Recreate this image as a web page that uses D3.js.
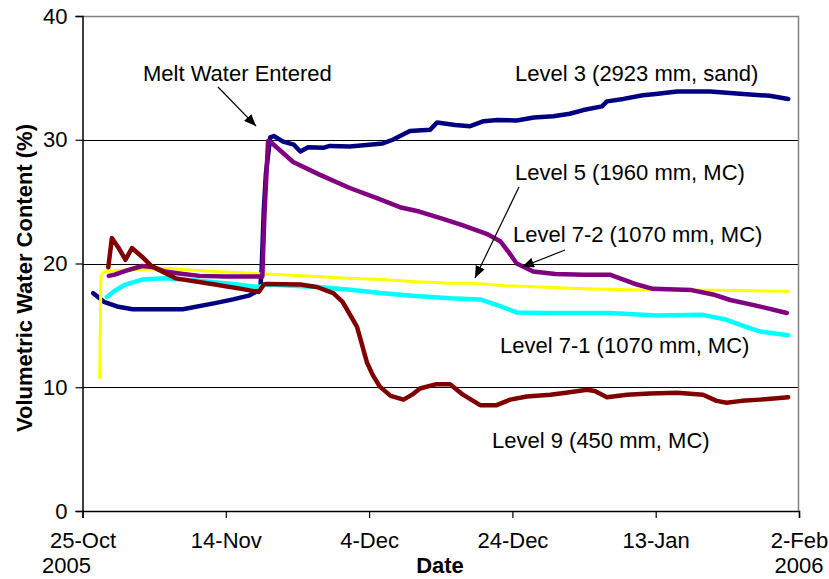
<!DOCTYPE html>
<html>
<head>
<meta charset="utf-8">
<script src="https://cdn.jsdelivr.net/npm/d3@7"></script>
<style>
  body { margin: 0; background: #fff; }
  text { font-family: Arial, "Liberation Sans", sans-serif; }
</style>
</head>
<body>
<div id="chart"></div>
<script>
//Chart size
var width = 829;
var height = 579;
var margin = {top: 16, right: 30, bottom: 68, left: 82.5};

//Data: [days after 25-Oct-2005, volumetric water content %]
var level3 = [[1.5,17.6],[3,16.9],[5,16.5],[7,16.3],[14,16.3],[18.5,16.8],[21,17.1],[23.2,17.4],[24.8,17.9],
  [25.0,19.5],[25.3,24.3],[25.6,27.3],[26.2,30.2],[26.7,30.3],[28,29.85],[29.5,29.6],[30.4,29.05],[31.5,29.4],
  [33.6,29.35],[34.5,29.5],[37.3,29.45],[40,29.6],[41.9,29.7],[43.3,30.0],[45,30.5],[45.7,30.7],[48.5,30.8],
  [49.5,31.4],[52,31.2],[54.1,31.1],[56,31.5],[57.9,31.6],[60.6,31.55],[63,31.8],[65.7,31.9],[68,32.1],
  [69.9,32.4],[72.5,32.7],[73.2,33.1],[75.5,33.3],[78.2,33.6],[80,33.7],[83,33.9],[87.6,33.9],[92.2,33.7],
  [95.9,33.55],[98.5,33.3]];
var level5 = [[3.66,19.0],[4.5,19.1],[6,19.4],[8.3,19.8],[10,19.7],[11.5,19.35],[13.5,19.2],[16.3,19.0],
  [20,18.95],[25.1,18.95],[25.4,24],[25.9,29.9],[26.3,29.8],[29.4,28.2],[33,27.2],[37.3,26.1],[41,25.3],
  [44.3,24.55],[47,24.2],[50.3,23.6],[53,23.1],[56.4,22.4],[58.3,21.8],[59.5,20.9],[60.6,20.0],[62.9,19.35],
  [66,19.15],[70,19.1],[73.6,19.1],[75.5,18.7],[77.4,18.3],[79.6,17.95],[85,17.85],[88,17.5],[90.4,17.05],
  [94,16.6],[98.3,16.0]];
var level72 = [[2.4,10.75],[2.45,13],[2.5,15.2],[2.55,18],[2.6,19.0],[3.1,19.35],[6.9,19.5],[12,19.6],
  [17.1,19.4],[22,19.25],[27.8,19.1],[32.7,18.95],[37,18.8],[41.9,18.7],[46,18.55],[51.3,18.4],[54.5,18.4],
  [59,18.2],[63.9,18.1],[70,17.95],[77.8,17.85],[85,17.85],[93.6,17.8],[98.5,17.75]];
var level71 = [[3.4,17.3],[4.5,17.8],[6,18.3],[8.3,18.7],[11.5,18.8],[16.3,18.6],[20.9,18.35],[24.6,18.1],
  [25.7,18.3],[32.7,18.1],[37,17.9],[41.9,17.6],[46,17.4],[51.3,17.2],[55.5,17.1],[57.8,16.65],[60.6,16.05],
  [64.8,16.0],[69,16.0],[73.6,16.0],[80.1,15.8],[86.6,15.85],[89.9,15.45],[92,15.0],[94.6,14.5],[98.5,14.2]];
var level9 = [[3.6,19.7],[4.1,22.05],[5,21.3],[6.0,20.3],[6.9,21.25],[8.3,20.55],[9.7,19.75],[13.0,18.8],
  [18.5,18.3],[23.2,17.85],[24.6,17.7],[25.3,18.3],[25.7,18.35],[30.4,18.3],[32.7,18.1],[35.0,17.6],
  [36.3,16.9],[37.2,16.0],[38.3,14.9],[38.7,14.1],[39.7,12.0],[40.5,11.0],[41.5,10.05],[43,9.3],[44.8,9.0],
  [46,9.4],[47.1,9.9],[49.4,10.25],[51.3,10.25],[53.1,9.4],[55.5,8.55],[57.8,8.55],[59.7,9.0],[62,9.25],
  [65.3,9.4],[68,9.6],[70.4,9.8],[71.5,9.7],[73.2,9.2],[76,9.4],[79.2,9.5],[83,9.55],[86.6,9.4],[88.5,8.9],
  [89.9,8.75],[92,8.9],[94.6,9.0],[98.5,9.2]];

var seriesNames = ["Level 3 (2923 mm, sand)", "Level 7-2 (1070 mm, MC)", "Level 7-1 (1070 mm, MC)",
  "Level 5 (1960 mm, MC)", "Level 9 (450 mm, MC)"];
var seriesData = [level3, level72, level71, level5, level9];
var seriesColors = ["#000080", "#ffff00", "#00ffff", "#800080", "#800000"];
var seriesWidths = [4.5, 3, 4.5, 4.5, 4.5];

var yTicks = [0, 10, 20, 30, 40];
var startDate = new Date(2005, 9, 25);
var endDate = new Date(2006, 1, 2);

function toDate(day)
{
  return new Date(startDate.getTime() + day * 864e5);
}

var svg = d3.select("#chart").append("svg")
  .attr("width", width)
  .attr("height", height);

var x = d3.scaleTime().domain([startDate, endDate]).range([margin.left, width - margin.right]);
var y = d3.scaleLinear().domain([0, 40]).range([height - margin.bottom, margin.top]);

//Gridlines
svg.append("g").selectAll("line")
  .data(yTicks.slice(1, 4))
  .enter().append("line")
  .attr("x1", margin.left).attr("x2", width - margin.right)
  .attr("y1", function(d) { return Math.round(y(d)) + 0.5; })
  .attr("y2", function(d) { return Math.round(y(d)) + 0.5; })
  .attr("stroke", "#000").attr("stroke-width", 1);

//Top and right border
svg.append("path")
  .attr("d", "M" + margin.left + "," + (margin.top + 0.5) + "H" + (width - margin.right - 0.5) + "V" + (height - margin.bottom))
  .attr("fill", "none").attr("stroke", "#808080").attr("stroke-width", 1.5);

//Lines
var line = d3.line()
  .x(function(d) { return x(toDate(d[0])); })
  .y(function(d) { return y(d[1]); })
  .curve(d3.curveLinear);

svg.append("g").selectAll("path")
  .data(seriesData)
  .enter().append("path")
  .attr("d", line)
  .attr("fill", "none")
  .attr("stroke", function(d, i) { return seriesColors[i]; })
  .attr("stroke-width", function(d, i) { return seriesWidths[i]; })
  .attr("stroke-linejoin", "round")
  .attr("stroke-linecap", "round");

//Axes
var xTickDates = [0, 20, 40, 60, 80, 100].map(toDate);
var xAxis = svg.append("g")
  .attr("transform", "translate(0," + (height - margin.bottom) + ")")
  .call(d3.axisBottom(x).tickValues(xTickDates).tickFormat(d3.timeFormat("%-d-%b")).tickSize(7).tickPadding(14));
var yAxis = svg.append("g")
  .attr("transform", "translate(" + margin.left + ",0)")
  .call(d3.axisLeft(y).tickValues(yTicks).tickSize(7).tickPadding(8));

[xAxis, yAxis].forEach(function(a)
{
  a.select(".domain").attr("stroke", "#000").attr("stroke-width", 1.5);
  a.selectAll(".tick line").attr("stroke", "#000").attr("stroke-width", 1.2);
  a.selectAll(".tick text").attr("font-size", 22).attr("fill", "#000")
    .attr("font-family", "Arial, 'Liberation Sans', sans-serif");
});

//Year labels under first and last tick
svg.append("text").attr("x", x(startDate) - 16).attr("y", 573)
  .attr("text-anchor", "middle").attr("font-size", 22).text("2005");
svg.append("text").attr("x", x(endDate)).attr("y", 573)
  .attr("text-anchor", "middle").attr("font-size", 22).text("2006");

//Axis titles
svg.append("text").attr("x", 440).attr("y", 573)
  .attr("text-anchor", "middle").attr("font-size", 22).attr("font-weight", "bold").text("Date");
svg.append("text")
  .attr("transform", "translate(32,278) rotate(-90)")
  .attr("text-anchor", "middle").attr("font-size", 22).attr("font-weight", "bold")
  .text("Volumetric Water Content (%)");

//Series labels
var labelPos = [[515, 81], [513, 242], [500, 353], [515, 180], [492, 448]];
svg.append("g").selectAll("text")
  .data(seriesNames)
  .enter().append("text")
  .attr("x", function(d, i) { return labelPos[i][0]; })
  .attr("y", function(d, i) { return labelPos[i][1]; })
  .attr("font-size", 22)
  .text(function(d) { return d; });

svg.append("text").attr("x", 143).attr("y", 81).attr("font-size", 22).text("Melt Water Entered");

//Arrows
svg.append("defs").append("marker")
  .attr("id", "arrow")
  .attr("viewBox", "0 0 12 10")
  .attr("refX", 12).attr("refY", 5)
  .attr("markerWidth", 12).attr("markerHeight", 10)
  .attr("markerUnits", "userSpaceOnUse")
  .attr("orient", "auto")
  .append("path").attr("d", "M0,0L12,5L0,10Z").attr("fill", "#000");

var arrows = [[218, 87, 256, 126], [519, 187, 475, 278], [565, 250, 522, 267]];
svg.append("g").selectAll("line")
  .data(arrows)
  .enter().append("line")
  .attr("x1", function(d) { return d[0]; }).attr("y1", function(d) { return d[1]; })
  .attr("x2", function(d) { return d[2]; }).attr("y2", function(d) { return d[3]; })
  .attr("stroke", "#000").attr("stroke-width", 1.2)
  .attr("marker-end", "url(#arrow)");
</script>
</body>
</html>
